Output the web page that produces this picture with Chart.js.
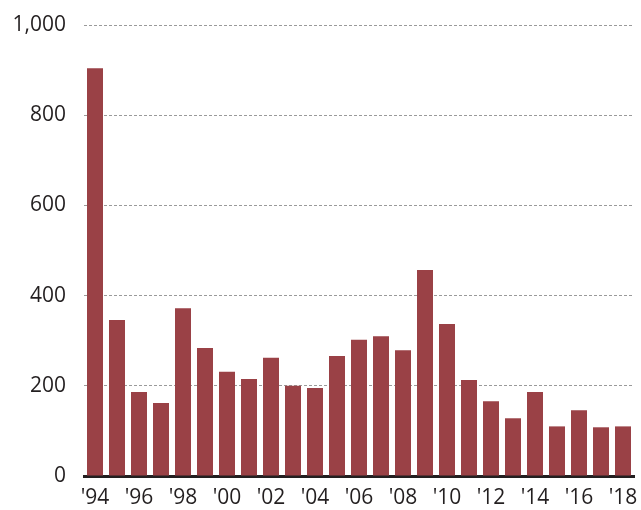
<!DOCTYPE html>
<html>
<head>
<meta charset="utf-8">
<script src="https://cdn.jsdelivr.net/npm/chart.js@4"></script>
<style>
  html, body { margin: 0; padding: 0; background: #fff; }
  #wrap { width: 641px; height: 510px; }
</style>
</head>
<body>
<div id="wrap"><canvas id="chart" width="641" height="510"></canvas></div>
<script>
const years = ["'94", "'95", "'96", "'97", "'98", "'99", "'00", "'01", "'02", "'03", "'04", "'05", "'06",
  "'07", "'08", "'09", "'10", "'11", "'12", "'13", "'14", "'15", "'16", "'17", "'18"];
const values = [904, 346, 186, 162, 372, 284, 231, 215, 262, 200, 195, 266, 302,
  310, 279, 457, 337, 213, 166, 128, 186, 110, 146, 108, 110];
const yTicks = [0, 200, 400, 600, 800, 1000];

const textColor = '#231f20';
const font = { family: "'Open Sans', sans-serif", size: 21 };

new Chart(document.getElementById('chart'), {
  type: 'bar',
  data: {
    labels: years,
    datasets: [{
      data: values,
      backgroundColor: '#9a4146',
      borderWidth: 0,
      categoryPercentage: 1,
      barPercentage: 0.727
    }]
  },
  options: {
    responsive: false,
    animation: false,
    layout: { padding: { top: 25, right: 7, left: 0, bottom: 0 } },
    plugins: { legend: { display: false }, tooltip: { enabled: false } },
    scales: {
      x: {
        grid: { display: false, drawTicks: false },
        border: { display: true, color: textColor, width: 3 },
        ticks: {
          autoSkip: false,
          maxRotation: 0,
          padding: 9,
          color: textColor,
          font: font,
          callback: (v, i) => (i % 2 === 0 ? years[i] : '')
        },
        afterFit: s => { s.height = 34; s.paddingLeft = 0; s.paddingRight = 0; }
      },
      y: {
        min: 0,
        max: 1000,
        afterBuildTicks: s => { s.ticks = yTicks.map(v => ({ value: v })); },
        grid: { color: '#9a9a9a', lineWidth: 1, drawTicks: false },
        border: { display: false, dash: [3, 2] },
        ticks: {
          padding: 18,
          color: textColor,
          font: font,
          callback: v => v.toLocaleString('en-US')
        },
        afterFit: s => { s.width = 84; s.paddingTop = 0; s.paddingBottom = 0; }
      }
    }
  }
});
</script>
</body>
</html>
